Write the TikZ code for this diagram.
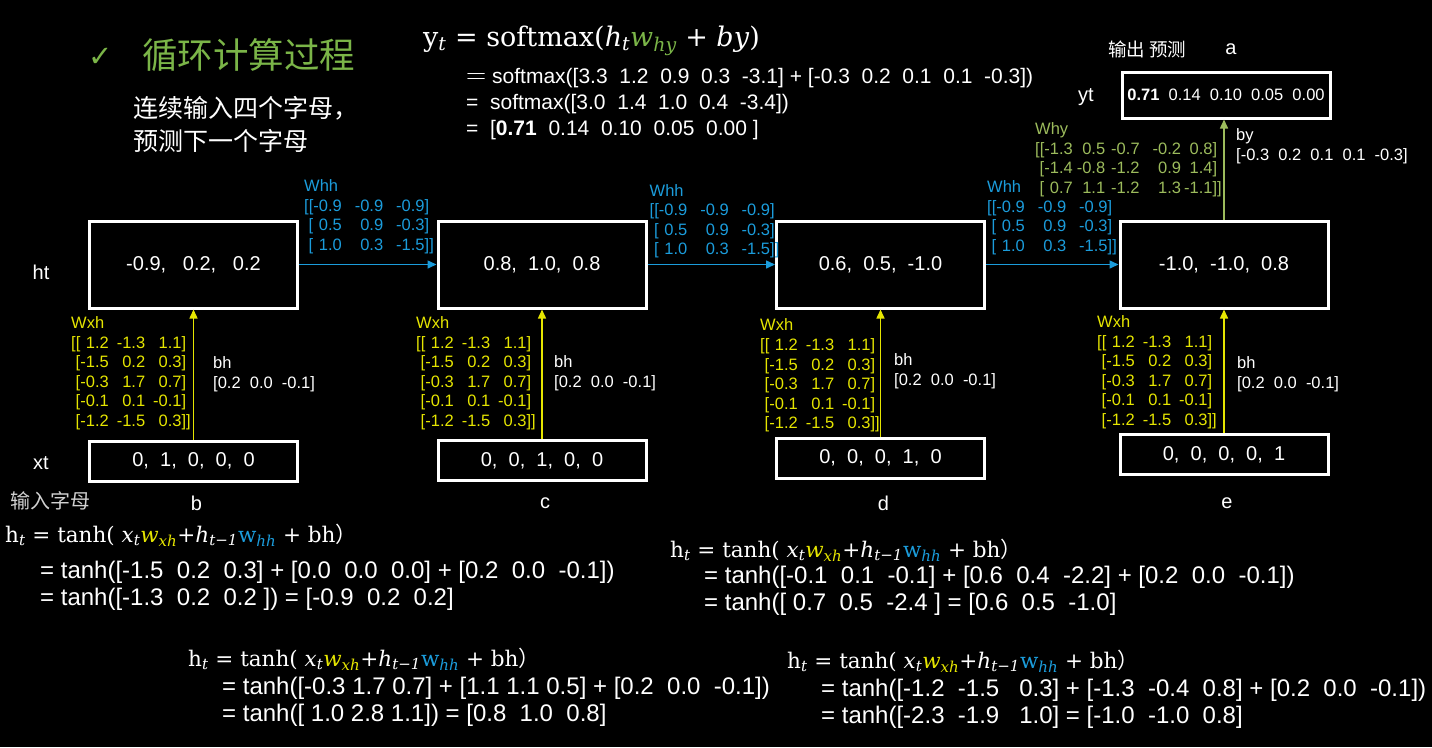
\RequirePackage{fix-cm}
\documentclass[tikz,border=0pt]{standalone}
\usepackage[no-math]{fontspec}
\setmainfont{Liberation Sans}
\newfontfamily\cjkfont{Noto Sans CJK SC}
\newfontfamily\symfont{DejaVu Sans}
\newfontfamily\eqfont{DejaVu Serif}
\usetikzlibrary{arrows.meta}
\definecolor{rnnGreen}{HTML}{7BB548}
\definecolor{rnnOlive}{HTML}{9CBB5C}
\definecolor{rnnBlue}{HTML}{1B9CDB}
\definecolor{rnnYellow}{HTML}{E5E500}

\newcommand\sub[1]{\textsubscript{\itshape #1}}
\newcommand\wxhmat{\begin{tabular}{@{}l@{}r@{\hspace{8pt}}r@{\hspace{8pt}}r@{}l@{}}
\multicolumn{5}{@{}l@{}}{Wxh}\\
{[}[ & 1.2 & -1.3 & 1.1 & ]\\
\hspace{4.3pt}{[} & -1.5 & 0.2 & 0.3 & ]\\
\hspace{4.3pt}{[} & -0.3 & 1.7 & 0.7 & ]\\
\hspace{4.3pt}{[} & -0.1 & 0.1 & -0.1 & ]\\
\hspace{4.3pt}{[} & -1.2 & -1.5 & 0.3 & ]]
\end{tabular}}
\newcommand\whhmat{\begin{tabular}{@{}l@{}r@{\hspace{13pt}}r@{\hspace{13pt}}r@{}l@{}}
\multicolumn{5}{@{}l@{}}{Whh}\\
{[}[ & -0.9 & -0.9 & -0.9 & ]\\
\hspace{4.3pt}{[} & 0.5 & 0.9 & -0.3 & ]\\
\hspace{4.3pt}{[} & 1.0 & 0.3 & -1.5 & ]]
\end{tabular}}
\newcommand\hteq{{\eqfont h\sub{t} = tanh(~\textit{x}\sub{t}{\color{rnnYellow}\textit{w}\sub{xh}}+\textit{h}\sub{t−1}{\color{rnnBlue}w\sub{hh}} + bh}{\cjkfont ）}}

\begin{document}
\begin{tikzpicture}[x=1pt,y=-1pt,
  every node/.style={inner sep=0pt,text=white},
  hbox/.style={draw=white,line width=3pt,minimum width=208pt,minimum height=87pt,font=\fontsize{20}{24}\selectfont},
  xbox/.style={draw=white,line width=3pt,minimum width=208pt,minimum height=40pt,font=\fontsize{20}{24}\selectfont},
  mat/.style={anchor=west,font=\fontsize{16.5}{19.6}\selectfont},
  lbl/.style={font=\fontsize{20}{24}\selectfont},
  eqn/.style={anchor=west,font=\fontsize{21.5}{26}\selectfont},
  eqv/.style={anchor=west,align=left,font=\fontsize{24}{27.5}\selectfont},
  harrow/.style={rnnBlue,line width=1.5pt,-{Triangle[length=9pt,width=8pt]}},
  xarrow/.style={rnnYellow,line width=1.5pt,-{Triangle[length=9pt,width=8pt]}},
  yarrow/.style={rnnOlive,line width=1.5pt,-{Triangle[length=9pt,width=8pt]}}]
  \fill[black] (0,0) rectangle (1432,747);
  \useasboundingbox (0,0) rectangle (1432,747);

  % title
  \node[text=rnnGreen,font=\symfont\fontsize{29}{32}\selectfont] (tick) at (101,57) {✓};
  \node[anchor=west,text=rnnGreen,font=\cjkfont\fontsize{35.5}{40}\selectfont] (title) at (142,55) {循环计算过程};
  \node[anchor=west,align=left,font=\cjkfont\fontsize{25}{33}\selectfont] (task) at (133,124.5) {连续输入四个字母，\\预测下一个字母};

  % output formula
  \node[anchor=west,font=\eqfont\fontsize{27}{30}\selectfont] (yform) at (423,41)
    {y\sub{t} = softmax(\textit{h}\sub{t}{\color{rnnGreen}\textit{w}\sub{hy}} + \textit{by})};
  \node[anchor=west,align=left,font=\fontsize{21}{26}\selectfont] (ycalc) at (466,104)
    {{\fontsize{28}{26}\selectfont$=$} softmax([3.3~~1.2~~0.9~~0.3~~-3.1] + [-0.3~~0.2~~0.1~~0.1~~-0.3])\\
     =~~softmax([3.0~~1.4~~1.0~~0.4~~-3.4])\\
     =~~[\textbf{0.71}~~0.14~~0.10~~0.05~~0.00~]};

  % time steps
  \foreach \n/\cx/\xy/\wx/\wy/\bx/\by/\hv/\xv/\ch in {
      1/193.5/461/71/373.5/213/374/{-0.9,~~~0.2,~~~0.2}/{0,~~1,~~0,~~0,~~0}/b,
      2/542/460.5/416/373.5/554/373/{0.8,~~1.0,~~0.8}/{0,~~0,~~1,~~0,~~0}/c,
      3/880.5/458/760/376/894/371/{0.6,~~0.5,~~-1.0}/{0,~~0,~~0,~~1,~~0}/d,
      4/1224/454.5/1097/372.5/1237/374/{-1.0,~~-1.0,~~0.8}/{0,~~0,~~0,~~0,~~1}/e}{
    \node[hbox] (h\n) at (\cx,264.5) {\hv};
    \node[xbox] (x\n) at (\cx,\xy) {\xv};
    \node[lbl] (ch\n) at (\cx+3,503) {\ch};
    \node[mat,text=rnnYellow] (wxh\n) at (\wx,\wy) {\wxhmat};
    \node[mat,align=left] (bh\n) at (\bx,\by) {bh\\{[}0.2~~0.0~~-0.1]};
    \draw[xarrow] (x\n.north) -- (h\n.south);
  }
  \foreach \a/\b/\dx/\dy in {1/2/5/47.5,2/3/2/43,3/4/1/46.5}{
    \draw[harrow] (h\a.east) -- (h\b.west);
    \node[mat,text=rnnBlue] (whh\a) at ([xshift=\dx pt,yshift=\dy pt]h\a.east) {\whhmat};
  }
  \node[lbl] (htlbl) at (41,272) {ht};
  \node[lbl] (xtlbl) at (41,463) {xt};
  \node[anchor=west,text=white!82!black,font=\cjkfont\fontsize{20}{24}\selectfont] (inlbl) at (10,501) {输入字母};

  % output
  \node[draw=white,line width=3pt,minimum width=208pt,minimum height=46pt,font=\fontsize{16.5}{20}\selectfont] (yt) at (1226,95)
    {\textbf{0.71}~~0.14~~0.10~~0.05~~0.00};
  \node[lbl] (ytlbl) at (1086,97) {yt};
  \node[anchor=west,font=\cjkfont\fontsize{18.5}{22}\selectfont] (outlbl) at (1108,49) {输出~预测};
  \node[lbl] (alt) at (1231,49) {a};
  \draw[yarrow] (h4.north) -- (h4.north |- yt.south);
  \node[mat,text=rnnOlive] (why) at (1035,160)
    {\begin{tabular}{@{}l@{}r@{\hspace{4pt}}r@{\hspace{6pt}}r@{\hspace{13pt}}r@{\hspace{3pt}}r@{}l@{}}
     \multicolumn{7}{@{}l@{}}{Why}\\
     {[}[ & -1.3 & 0.5 & -0.7 & -0.2 & 0.8 & ]\\
     \hspace{4.3pt}{[} & -1.4 & -0.8 & -1.2 & 0.9 & 1.4 & ]\\
     \hspace{4.3pt}{[} & 0.7 & 1.1 & -1.2 & 1.3 & -1.1 & ]]
     \end{tabular}};
  \node[mat,align=left] (by) at (1236,146) {by\\{[}-0.3~~0.2~~0.1~~0.1~~-0.3]};

  % hidden state calculations
  \node[eqn] (eq1) at (5,535) {\hteq};
  \node[eqv] (eq1v) at (40,586) {= tanh([-1.5~~0.2~~0.3] + [0.0~~0.0~~0.0] + [0.2~~0.0~~-0.1])\\
    = tanh([-1.3~~0.2~~0.2~]) = [-0.9~~0.2~~0.2]};
  \node[eqn] (eq2) at (188,659) {\hteq};
  \node[eqv] (eq2v) at (222,702) {= tanh([-0.3 1.7 0.7] + [1.1 1.1 0.5] + [0.2~~0.0~~-0.1])\\
    = tanh([ 1.0 2.8 1.1]) = [0.8~~1.0~~0.8]};
  \node[eqn] (eq3) at (670,550) {\hteq};
  \node[eqv] (eq3v) at (704,591) {= tanh([-0.1~~0.1~~-0.1] + [0.6~~0.4~~-2.2] + [0.2~~0.0~~-0.1])\\
    = tanh([~0.7~~0.5~~-2.4~] = [0.6~~0.5~~-1.0]};
  \node[eqn] (eq4) at (787,661) {\hteq};
  \node[eqv] (eq4v) at (821,704) {= tanh([-1.2~~-1.5~~~0.3] + [-1.3~~-0.4~~0.8] + [0.2~~0.0~~-0.1])\\
    = tanh([-2.3~~-1.9~~~1.0] = [-1.0~~-1.0~~0.8]};
\end{tikzpicture}
\end{document}
